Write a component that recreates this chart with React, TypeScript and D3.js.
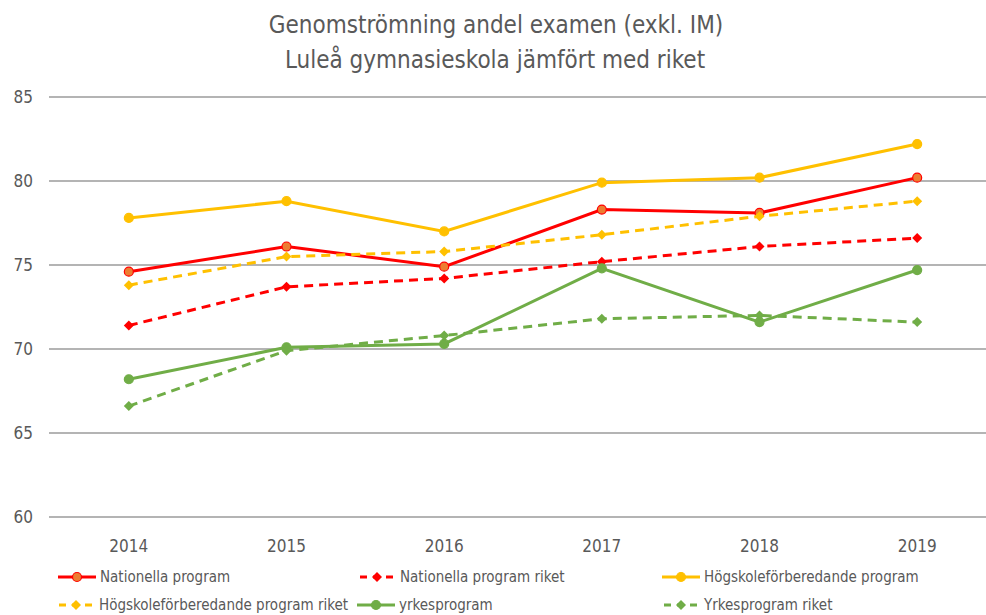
import { useEffect, useRef } from 'react';
import * as d3 from 'd3';

const years = ['2014', '2015', '2016', '2017', '2018', '2019'];
const yTicks = [60, 65, 70, 75, 80, 85];

const nationella = [74.6, 76.1, 74.9, 78.3, 78.1, 80.2];
const nationellaRiket = [71.4, 73.7, 74.2, 75.2, 76.1, 76.6];
const hogskole = [77.8, 78.8, 77.0, 79.9, 80.2, 82.2];
const hogskoleRiket = [73.8, 75.5, 75.8, 76.8, 77.9, 78.8];
const yrkes = [68.2, 70.1, 70.3, 74.8, 71.6, 74.7];
const yrkesRiket = [66.6, 69.9, 70.8, 71.8, 72.0, 71.6];

const series = [
  { name: 'Nationella program', values: nationella, color: '#FF0000', fill: '#ED7D31', dashed: false },
  { name: 'Nationella program riket', values: nationellaRiket, color: '#FF0000', fill: '#FF0000', dashed: true },
  { name: 'Högskoleförberedande program', values: hogskole, color: '#FFC000', fill: '#FFC000', dashed: false },
  { name: 'Högskoleförberedande program riket', values: hogskoleRiket, color: '#FFC000', fill: '#FFC000', dashed: true },
  { name: 'yrkesprogram', values: yrkes, color: '#70AD47', fill: '#70AD47', dashed: false },
  { name: 'Yrkesprogram riket', values: yrkesRiket, color: '#70AD47', fill: '#70AD47', dashed: true },
];

const FONT = '"Liberation Sans Narrow", "DejaVu Sans Condensed", sans-serif';

const App = () => {
  const ref = useRef<HTMLDivElement>(null);

  useEffect(() => {
    document.body.style.margin = '0';
    if (!ref.current) return;
    const width = 986, height = 615;
    d3.select(ref.current).selectAll('svg').remove();

    const svg = d3.select(ref.current)
      .append('svg')
      .attr('width', width)
      .attr('height', height)
      .style('background', '#fff');

    const x = d3.scaleBand().domain(years).range([50, 996]);
    const y = d3.scaleLinear().domain([60, 85]).range([517, 97]);
    const cx = (d: string) => (x(d) as number) + x.bandwidth() / 2;

    // title
    svg.append('text')
      .attr('x', 496).attr('y', 33)
      .attr('text-anchor', 'middle')
      .style('font-family', FONT).style('font-size', '24px').attr('fill', '#595959')
      .text('Genomströmning andel examen (exkl. IM)');
    svg.append('text')
      .attr('x', 495).attr('y', 68)
      .attr('text-anchor', 'middle')
      .style('font-family', FONT).style('font-size', '24px').attr('fill', '#595959')
      .text('Luleå gymnasieskola jämfört med riket');

    // grid + y labels
    svg.append('g').selectAll('line').data(yTicks).join('line')
      .attr('x1', 49).attr('x2', width)
      .attr('y1', d => y(d)).attr('y2', d => y(d))
      .attr('stroke', '#B4B4B4').attr('stroke-width', 2);
    svg.append('g').selectAll('text').data(yTicks).join('text')
      .attr('x', 33).attr('y', d => y(d) + 6)
      .attr('text-anchor', 'end')
      .style('font-family', FONT).style('font-size', '17px').attr('fill', '#595959')
      .text(d => d);

    // x labels
    svg.append('g').selectAll('text').data(years).join('text')
      .attr('x', d => cx(d)).attr('y', 552)
      .attr('text-anchor', 'middle')
      .style('font-family', FONT).style('font-size', '17px').attr('fill', '#595959')
      .text(d => d);

    const line = d3.line<number>()
      .x((_, i) => cx(years[i]))
      .y(d => y(d));

    const diamond = d3.symbol().type(d3.symbolSquare).size(50);

    series.forEach(s => {
      const g = svg.append('g');
      g.append('path')
        .datum(s.values)
        .attr('fill', 'none')
        .attr('stroke', s.color)
        .attr('stroke-width', 3)
        .attr('stroke-dasharray', s.dashed ? '9,6' : null)
        .attr('d', line);
      if (s.dashed) {
        g.selectAll('path.m').data(s.values).join('path')
          .attr('class', 'm')
          .attr('transform', (d, i) => `translate(${cx(years[i])},${y(d)}) rotate(45)`)
          .attr('d', diamond)
          .attr('fill', s.fill);
      } else {
        g.selectAll('circle').data(s.values).join('circle')
          .attr('cx', (_, i) => cx(years[i])).attr('cy', d => y(d))
          .attr('r', 4.5)
          .attr('fill', s.fill).attr('stroke', s.color).attr('stroke-width', 1.2);
      }
    });

    // legend
    const legendPos = [
      [58, 577], [358, 577], [662, 577],
      [57, 605], [357, 605], [662, 605],
    ];
    series.forEach((s, i) => {
      const [lx, ly] = legendPos[i];
      const g = svg.append('g').attr('transform', `translate(${lx},${ly})`);
      g.append('line')
        .attr('x1', 0).attr('x2', 38).attr('y1', 0).attr('y2', 0)
        .attr('stroke', s.color).attr('stroke-width', 3)
        .attr('stroke-dasharray', s.dashed ? '7,6' : null)
        .attr('stroke-dashoffset', s.dashed ? -2 : 0);
      if (s.dashed) {
        g.append('path').attr('transform', 'translate(19,0) rotate(45)').attr('d', diamond).attr('fill', s.fill);
      } else {
        g.append('circle').attr('cx', 19).attr('cy', 0).attr('r', 4.5)
          .attr('fill', s.fill).attr('stroke', s.color).attr('stroke-width', 1.2);
      }
      g.append('text')
        .attr('x', 42).attr('y', 5)
        .style('font-family', FONT).style('font-size', '15px').attr('fill', '#595959')
        .text(s.name);
    });
  }, []);

  return <div ref={ref} />;
};

export default App;
